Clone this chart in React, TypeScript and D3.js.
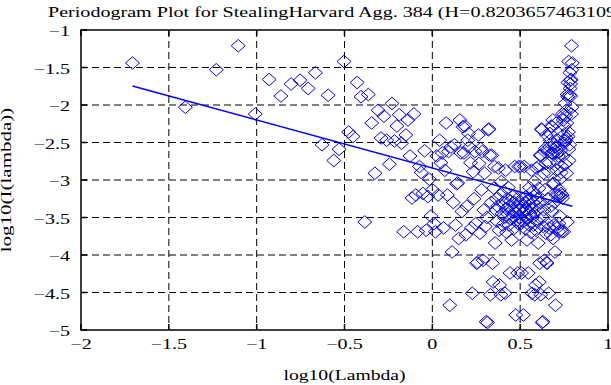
import React from "react";
import * as d3 from "d3";

// Series length used for the Fourier frequencies lambda_k = 2*pi*k/N
const N = 320;
const H = 0.820365746310966;
const fitIntercept = -2.84; // log10 I at log10(lambda) = 0

// log10 periodogram values for k = 1 .. N/2 (the rest mirror these: I(k) = I(N-k))
const logPeriodogram = [
  -1.44, -2.03, -1.53, -1.21, -2.12, -1.66, -1.88, -1.72, -1.67, -1.78,
  -1.57, -2.53, -1.87, -2.74, -2.59, -1.42, -2.36, -2.42, -1.70, -1.89,
  -3.56, -1.86, -2.24, -2.91, -2.07, -2.44, -2.15, -2.47, -2.79, -1.98,
  -2.48, -2.28, -2.13, -2.51, -3.69, -2.40, -2.20, -2.68, -3.24, -2.12,
  -3.20, -3.69, -2.82, -2.90, -3.18, -2.61, -3.67, -3.22, -2.99, -3.48,
  -3.13, -3.58, -3.69, -2.68, -3.20, -2.47, -2.77, -2.64, -3.64, -2.87,
  -2.24, -3.20, -2.62, -4.67, -2.56, -3.96, -3.30, -2.53, -3.60, -3.05,
  -3.04, -3.78, -2.20, -2.64, -3.42, -2.29, -2.64, -2.28, -3.73, -3.35,
  -2.47, -2.38, -2.56, -2.77, -3.64, -4.51, -2.89, -3.25, -2.62, -3.58,
  -4.11, -4.10, -2.40, -2.78, -3.71, -2.58, -3.13, -2.62, -4.07, -3.40,
  -2.91, -3.62, -4.89, -3.50, -4.90, -2.33, -2.32, -2.67, -4.53, -3.30,
  -2.67, -4.11, -4.36, -3.11, -2.82, -3.84, -3.40, -3.25, -3.55, -3.35,
  -2.84, -3.67, -4.40, -3.20, -4.53, -3.02, -3.45, -3.60, -3.30, -3.15,
  -3.50, -4.51, -2.87, -3.38, -3.70, -3.25, -3.45, -3.10, -3.60, -3.35,
  -4.24, -3.28, -3.52, -3.80, -3.40, -3.22, -3.48, -3.65, -3.30, -2.82,
  -3.42, -4.80, -3.55, -3.35, -3.25, -4.24, -3.58, -2.82, -3.40, -3.50,
];

const xTicks = [-2, -1.5, -1, -0.5, 0, 0.5, 1];
const yTicks = [-1, -1.5, -2, -2.5, -3, -3.5, -4, -4.5, -5];

const titleText = "Periodogram Plot for StealingHarvard Agg. 384 (H=0.820365746310966)";
const xLabel = "log10(Lambda)";
const yLabel = "log10(I(lambda))";

const W = 611;
const Hgt = 385;
const L = 81, R = 608, T = 30, B = 330;
const FONT = "'Liberation Serif', 'Times New Roman', serif";
const FS = 15;
const SX = 1.34;
const BLUE = "#0000ff";

const fmt = (v: number) => (v < 0 ? "\u2212" + String(Math.abs(v)) : String(v));

export default function App() {
  const x = d3.scaleLinear().domain([-2, 1]).range([L, R]);
  const y = d3.scaleLinear().domain([-5, -1]).range([B, T]);

  const points: { lx: number; ly: number }[] = [];
  for (let k = 1; k < N; k++) {
    const idx = Math.min(k, N - k) - 1;
    const lambda = (2 * Math.PI * k) / N;
    points.push({ lx: Math.log10(lambda), ly: logPeriodogram[idx] });
  }
  const slope = 1 - 2 * H;
  const [x0, x1] = d3.extent(points, (p) => p.lx) as [number, number];
  const fitLine = d3
    .line<number>()
    .x((v) => x(v))
    .y((v) => y(fitIntercept + slope * v))([x0, x1]);

  const diamond = (cx: number, cy: number) =>
    `M${cx},${cy - 6.3}L${cx + 7},${cy}L${cx},${cy + 6.3}L${cx - 7},${cy}Z`;

  return (
    <svg
      width={W}
      height={Hgt}
      style={{ position: "fixed", left: 0, top: 0, background: "#fff" }}
      fontFamily={FONT}
    >
      <rect x={0} y={0} width={W} height={Hgt} fill="#fff" />
      {/* grid */}
      <g stroke="#000" strokeWidth={1} strokeDasharray="7,4">
        {xTicks.slice(1, -1).map((t) => (
          <line key={"gx" + t} x1={x(t)} x2={x(t)} y1={T} y2={B} />
        ))}
        {yTicks.slice(1, -1).map((t) => (
          <line key={"gy" + t} x1={L} x2={R} y1={y(t)} y2={y(t)} />
        ))}
      </g>
      {/* points */}
      <g fill="none" stroke={BLUE} strokeWidth={1}>
        {points.map((p, i) => (
          <path key={i} d={diamond(x(p.lx), y(p.ly))} />
        ))}
      </g>
      {/* fitted line */}
      <path d={fitLine || ""} fill="none" stroke={BLUE} strokeWidth={1.6} />
      {/* axes box & ticks */}
      <rect x={L} y={T} width={R - L} height={B - T} fill="none" stroke="#000" strokeWidth={1.5} />
      <g stroke="#000" strokeWidth={1.5}>
        {xTicks.map((t) => (
          <g key={"tx" + t}>
            <line x1={x(t)} x2={x(t)} y1={B} y2={B - 6} />
            <line x1={x(t)} x2={x(t)} y1={T} y2={T + 6} />
          </g>
        ))}
        {yTicks.map((t) => (
          <g key={"ty" + t}>
            <line x1={L} x2={L + 6} y1={y(t)} y2={y(t)} />
            <line x1={R} x2={R - 6} y1={y(t)} y2={y(t)} />
          </g>
        ))}
      </g>
      {/* tick labels */}
      <g fontSize={FS} fill="#000">
        {xTicks.map((t) => (
          <text key={"lx" + t} textAnchor="middle" transform={`translate(${x(t)},349) scale(${SX},1)`}>
            {fmt(t)}
          </text>
        ))}
        {yTicks.map((t) => (
          <text key={"ly" + t} textAnchor="end" transform={`translate(70,${y(t) + 6}) scale(${SX},1)`}>
            {fmt(t)}
          </text>
        ))}
      </g>
      <text fontSize={FS} textAnchor="middle" transform={`translate(${(L + R) / 2},380) scale(1.31,1)`}>
        {xLabel}
      </text>
      <text fontSize={FS} textAnchor="middle" transform={`translate(11,180) rotate(-90) scale(1.4,1)`}>
        {yLabel}
      </text>
      <text fontSize={FS} textAnchor="start" transform={`translate(48,17) scale(${SX},1)`}>
        {titleText}
      </text>
    </svg>
  );
}
